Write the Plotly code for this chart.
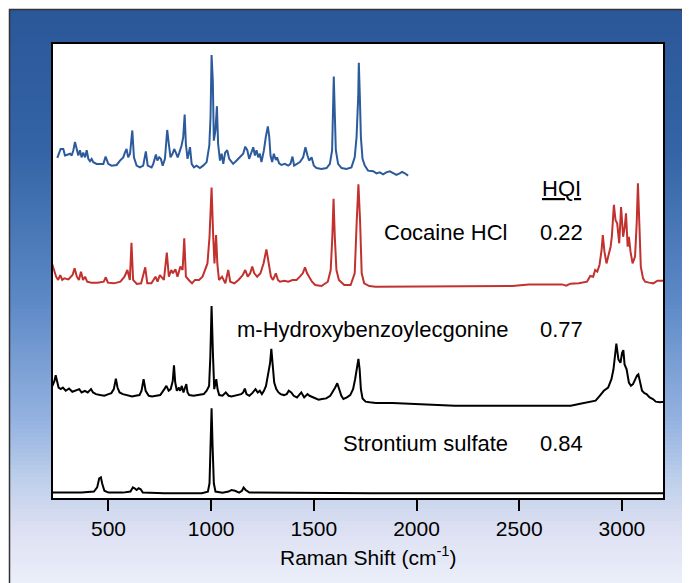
import plotly.graph_objects as go

# ---------------- data (Raman shift in cm-1, relative intensity 0-100) ----------------
blue_x = [251,267,280,288,296,313,321,329,337,345,353,361,369,377,386,394,402,410,418,426,
          442,459,475,486,499,515,540,556,572,580,588,596,605,616,624,637,653,669,682,691,
          710,718,731,738,747,755,764,775,786,794,802,812,820,828,837,845,856,864,871,877,
          885,897,905,916,929,945,961,978,991,997,1002,1008,1013,1021,1028,1034,1043,1051,1059,1068,
          1078,1088,1099,1107,1124,1140,1156,1166,1176,1185,1195,1205,1213,1221,1229,1237,1245,1257,1266,1276,
          1283,1289,1297,1305,1315,1321,1331,1342,1359,1375,1386,1396,1404,1416,1432,1448,1459,1469,1477,1489,
          1500,1513,1537,1562,1578,1589,1594,1597,1602,1607,1618,1635,1659,1683,1699,1708,1716,1719,1724,1729,
          1737,1748,1764,1789,1805,1821,1837,1853,1870,1886,1902,1918,1930,1943,1959]
blue_y = [13.5,21,21,15.5,16,17,15.5,20,27,21,15.5,20,14,18,14,20,12.7,10.7,12.7,9.9,
          8.5,8.5,8.5,14.6,8.5,7,7.6,11.3,14,18,21,14,17,36.6,14,7,5.6,7,19,7,
          5.6,8.5,16.3,11.3,14,12.7,7,12.7,37,25,14,17,21,18,14,18,24,31,50,25,
          12.7,22.5,8.5,5.6,7,5,7,10,24,48,100,79,28,36.6,57,25,11.3,17,8.5,18,
          20,12.7,10,8.5,11.3,14,17,23,20,12.7,17,22.5,15.5,20,14,17,10,20,31,40,
          31,15.5,10,17,11.8,14,9,7.6,8.5,7,8.5,14.6,7,8.5,10,14,22.5,15.5,11.3,14,
          7,5,4.2,5,8.5,20,51,82,51,20,8.5,5,4.2,5.6,14,31,65,93.5,65,31,
          12.7,7,2.8,2.3,0.5,1.4,-0.3,1.4,2.2,0.6,-0.8,0.6,1.8,0.6,-1.4]

red_x = [220,230,245,255,265,275,285,305,325,335,346,356,366,376,386,396,416,447,477,487,
         497,527,558,578,592,604,612,620,638,659,679,689,709,729,739,750,770,784,794,806,
         814,826,836,850,861,869,877,891,907,921,941,958,972,982,992,1002,1010,1016,1024,1030,
         1038,1053,1069,1083,1093,1113,1133,1154,1166,1178,1190,1200,1210,1224,1240,1255,1269,1279,1291,1301,
         1315,1325,1335,1356,1376,1396,1416,1432,1446,1457,1467,1481,1491,1507,1537,1568,1582,1590,1596,1602,
         1610,1622,1648,1679,1699,1709,1717,1725,1733,1745,1770,1800,1982,2184,2386,2466,2547,2709,2729,2749,
         2790,2830,2846,2860,2870,2880,2891,2901,2907,2915,2925,2935,2945,2951,2961,2969,2977,2987,2996,3006,
         3014,3020,3028,3034,3042,3052,3064,3072,3078,3086,3092,3103,3113,3133,3153,3173,3204]
red_y = [24.4,17.9,8.1,4.9,9.7,4.9,6.5,5.5,9.7,16.2,8.1,4.9,13,4.9,8.1,3.2,2.3,2.3,3.2,7.5,
         2.3,1.6,3.2,8.1,14.6,4.9,41,4.9,1,1.6,17.2,1.6,1.6,8.1,3.2,9.7,4.9,31.5,8.1,14.6,
         11.4,15.3,8.1,17.9,14.6,45.5,8.1,4.9,1.6,4.9,4.9,8.1,14.6,21,47,95,47,21,48.7,21,
         4.9,8.1,1.6,14.6,3.2,1.6,4.9,9.7,14.6,8.1,11.4,17.9,11.4,8.1,11.4,21,34.7,21,8.1,4.9,
         11.4,4.9,3.2,4.2,3.2,4.9,4.9,8.1,11.4,17.2,11.4,6.5,3.2,0,-1,3.2,14.6,47,84,47,
         14.6,4.9,0,0,11.4,63,98,63,11.4,1.6,-1,-1.6,-1.6,-1.6,-1.6,-1,0.6,0.6,-0.6,1.3,
         1.6,3.2,8.8,8.1,14.6,13,19.5,34,48.7,32.5,21,30.8,37.3,47,78,63,60,40.6,76,47,
         56.8,69.8,37.3,47,32.5,21,27.6,60,99,53.6,17.9,6.5,3.2,2.3,1.6,4.2,4.2]

black_x = [227,237,243,251,257,268,278,292,308,324,338,358,369,385,399,415,425,439,459,480,
           500,514,526,536,544,554,570,591,615,631,651,661,671,681,696,712,732,752,772,782,
           793,803,813,819,825,833,843,849,857,865,873,879,885,893,914,944,964,978,990,996,
           1002,1009,1015,1025,1031,1039,1055,1071,1085,1099,1116,1132,1146,1156,1164,1172,1186,1200,1216,1227,
           1237,1247,1257,1267,1277,1287,1293,1299,1307,1317,1328,1338,1354,1368,1378,1390,1402,1418,1439,1453,
           1469,1479,1495,1509,1523,1540,1560,1580,1596,1604,1614,1624,1634,1644,1661,1677,1691,1701,1711,1717,
           1723,1729,1737,1752,1772,1802,1883,1984,2034,2085,2186,2388,2589,2751,2791,2832,2872,2892,2912,2933,
           2949,2959,2967,2973,2983,2993,3001,3007,3013,3023,3034,3044,3054,3066,3074,3080,3088,3098,3110,3120,
           3135,3151,3165,3185,3205]
black_y = [18.5,23.6,29.3,23.6,16.8,15.2,16.8,13.5,15.8,12.5,13.5,15.2,11.8,13.5,11.8,15.2,11.8,10.1,9.1,8.4,
           10.1,11.1,15.2,25.9,16.8,11.8,10.1,9.1,7.7,8.4,9.1,13.5,25.3,13.5,8.4,7.7,8.4,9.1,15.2,18.5,
           13.5,15.2,23.6,39.4,21.9,13.5,16.8,13.5,18.5,11.8,16.8,20.2,11.8,9.1,8.4,9.1,10.1,13.5,18.5,48.8,
           100,48.8,15.2,25.3,15.2,9.1,8.4,11.8,8.4,7.7,8.4,9.1,10.1,11.8,15.8,10.1,8.4,11.1,15.2,11.8,
           13.5,10.1,13.5,18.5,28.6,42,56.2,42,21.9,15.2,11.8,10.1,9.1,10.1,13.5,11.8,8.4,6.7,11.8,6.7,
           10.1,8.4,6.7,5.1,4.4,5.1,5.7,8.4,13.5,16.8,21.2,15.2,8.4,5.1,6.7,9.1,15.2,25.3,38.7,46.1,
           35.4,15.2,5.7,2.4,1.7,1,1,0.3,-0.3,-1,-1.7,-1.7,-1.7,-1.7,0,1.7,3.4,8.4,13.5,16.8,
           25.3,35.4,53.9,61.6,45.5,42.1,52.2,54.9,40.4,35.4,21.9,18.5,20.2,26.9,29.3,30.3,23.6,13.5,11.1,10.1,
           6.7,5.1,2.4,1.7,2.4]

sr_x = [223,369,429,445,455,463,469,480,500,570,607,619,627,637,647,657,667,772,954,984,
        992,998,1002,1007,1013,1021,1055,1085,1099,1116,1136,1150,1158,1168,1186,1206,1782,3205]
sr_y = [0.8,0.8,2,7,17.6,18.8,11.8,3,0.8,0.8,2,7,5.9,3.9,5.9,4.7,0.8,0,0,2,
        11.8,55,100,55,11.8,2,0.8,2,3.9,3,0.8,3,6.7,3.9,0.8,0.8,0,0]

library_names = ["Cocaine HCl", "m-Hydroxybenzoylecgonine", "Strontium sulfate"]
hqi_values = ["0.22", "0.77", "0.84"]
tick_vals = [500, 1000, 1500, 2000, 2500, 3000]
tick_text = ["500", "1000", "1500", "2000", "2500", "3000"]

# ---------------- layout geometry (screen px -> figure; page body has an 8px margin) ----------------
OFF = 8
W, H = 690, 583
PX_L, PX_R, PX_T, PX_B = 52, 664, 43, 499          # plot frame, in window pixels
L, T = PX_L - OFF, PX_T - OFF
R, B = W - (PX_R - OFF), H - (PX_B - OFF)
PW, PH = W - L - R, H - T - B


def px2x(px):
    return (px - PX_L) / PW


def py2y(py):
    return (PX_B - py) / PH


FONT = "Liberation Sans, Arial, Helvetica, sans-serif"
LW = 2

fig = go.Figure()
fig.add_trace(go.Scatter(x=sr_x, y=sr_y, mode="lines", line=dict(color="#000000", width=LW),
                         xaxis="x", yaxis="y", showlegend=False, hoverinfo="skip"))
fig.add_trace(go.Scatter(x=black_x, y=black_y, mode="lines", line=dict(color="#000000", width=LW),
                         xaxis="x", yaxis="y2", showlegend=False, hoverinfo="skip"))
fig.add_trace(go.Scatter(x=red_x, y=red_y, mode="lines", line=dict(color="#c1312e", width=LW),
                         xaxis="x", yaxis="y3", showlegend=False, hoverinfo="skip"))
fig.add_trace(go.Scatter(x=blue_x, y=blue_y, mode="lines", line=dict(color="#2c5b9b", width=LW),
                         xaxis="x", yaxis="y4", showlegend=False, hoverinfo="skip"))


def ydom(py0, py100):
    span = py0 - py100
    return [py2y(py0 + 0.05 * span), py2y(py100 - 0.05 * span)]


yax = dict(range=[-5, 105], showgrid=False, zeroline=False, showticklabels=False,
           ticks="", showline=False, fixedrange=True)
fig.update_layout(
    yaxis=dict(domain=ydom(493.3, 408.3), **yax),
    yaxis2=dict(domain=ydom(404, 306), **yax),
    yaxis3=dict(domain=ydom(285, 182.3), **yax),
    yaxis4=dict(domain=ydom(174, 55), **yax),
)

fig.update_xaxes(range=[225, 3205], anchor="free", position=0, showgrid=False, zeroline=False,
                 tickvals=tick_vals, ticktext=tick_text, ticks="outside", ticklen=11, tickwidth=2,
                 tickcolor="#000000", showline=False,
                 tickfont=dict(family=FONT, size=21, color="#000000"))

# ---------------- background gradient ----------------
stops = [(9, (42, 87, 152)), (150, (52, 100, 166)), (300, (92, 137, 198)), (420, (148, 178, 224)),
         (480, (190, 207, 235)), (530, (221, 224, 242)), (600, (238, 244, 252))]


def col_at(py):
    for (p0, c0), (p1, c1) in zip(stops[:-1], stops[1:]):
        if p0 <= py <= p1:
            f = (py - p0) / (p1 - p0)
            return "rgb(%d,%d,%d)" % tuple(round(a + (b - a) * f) for a, b in zip(c0, c1))
    return "rgb(%d,%d,%d)" % stops[-1][1]


shapes = []
step = 4
py = 9
while py < H + OFF:
    shapes.append(dict(type="rect", xref="paper", yref="paper", layer="below",
                       x0=px2x(9), x1=px2x(W + OFF + 5), y0=py2y(py + step + 1), y1=py2y(py),
                       line=dict(width=0), fillcolor=col_at(py + step / 2)))
    py += step
# outer box border
shapes.append(dict(type="rect", xref="paper", yref="paper", layer="below",
                   x0=px2x(9.5), x1=px2x(W + 40), y0=py2y(H + 40), y1=py2y(9.5),
                   line=dict(width=1.5, color="#333333"), fillcolor="rgba(0,0,0,0)"))
# white plot area
shapes.append(dict(type="rect", xref="paper", yref="paper", layer="below",
                   x0=0, x1=1, y0=0, y1=1, line=dict(width=0), fillcolor="#ffffff"))
# plot frame
shapes.append(dict(type="rect", xref="paper", yref="paper", layer="above",
                   x0=0, x1=1, y0=0, y1=1, line=dict(width=2, color="#000000"),
                   fillcolor="rgba(0,0,0,0)"))

# ---------------- annotations ----------------
tf = dict(family=FONT, size=22, color="#000000")
ann = [dict(text="<u>HQI</u>", x=px2x(561), y=py2y(188), xanchor="center", yanchor="middle")]
for name, val, ypx in zip(library_names, hqi_values, [232, 329, 443]):
    ann.append(dict(text=name, x=px2x(510), y=py2y(ypx), xanchor="right", yanchor="middle"))
    ann.append(dict(text=val, x=px2x(561), y=py2y(ypx), xanchor="center", yanchor="middle"))
for a in ann:
    a["font"] = tf
ann.append(dict(text="Raman Shift (cm<sup>-1</sup>)", x=px2x(368), y=py2y(556),
                xanchor="center", yanchor="middle", font=dict(family=FONT, size=21, color="#000000")))
for a in ann:
    a.update(xref="paper", yref="paper", showarrow=False)

fig.update_layout(
    width=W, height=H, margin=dict(l=L, r=R, t=T, b=B, pad=0),
    paper_bgcolor="#ffffff", plot_bgcolor="rgba(0,0,0,0)",
    shapes=shapes, annotations=ann, showlegend=False,
)

fig.write_html("out.html")
